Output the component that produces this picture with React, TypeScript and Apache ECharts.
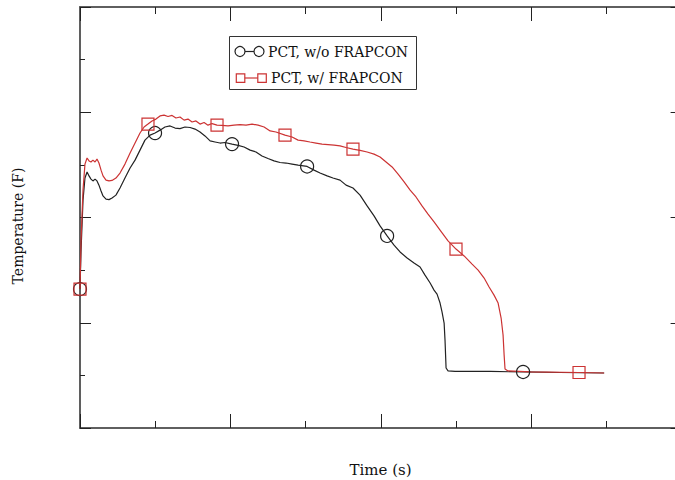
import React, { useEffect, useRef } from "react";
import * as echarts from "echarts";

// Time (s) and peak cladding temperature (F)
const timeWithout = [0, 0.7, 2.0, 3.3, 4.7, 6.0, 7.3, 8.6, 10.0, 11.3, 12.6, 14.0, 15.3, 17.3, 19.3, 21.3, 23.9, 26.6, 29.9, 33.3, 36.6, 39.9, 43.2, 46.6, 49.9, 53.2, 56.5, 59.9, 63.2, 66.5, 69.8, 73.2, 76.5, 79.8, 83.1, 86.5, 89.8, 93.1, 96.4, 101.1, 105.1, 109.1, 113.1, 117.0, 121.0, 125.0, 129.0, 133.0, 137.0, 141.0, 145.0, 151.0, 155.6, 159.6, 164.3, 168.2, 172.9, 176.9, 181.5, 186.2, 190.9, 195.5, 199.5, 204.2, 208.8, 212.8, 217.5, 222.1, 226.1, 229.4, 232.8, 235.4, 237.4, 239.4, 240.7, 242.1, 242.7, 243.4, 244.7, 249.4, 259.4, 272.7, 294.6, 319.2, 348.5];
const tempWithout = [528, 676, 866, 950, 973, 958, 946, 939, 946, 939, 923, 901, 882, 870, 868, 874, 885, 912, 950, 988, 1018, 1056, 1094, 1113, 1121, 1132, 1144, 1148, 1140, 1138, 1144, 1142, 1136, 1125, 1110, 1091, 1087, 1083, 1085, 1079, 1074, 1068, 1056, 1049, 1034, 1024, 1015, 1009, 1007, 1003, 999, 994, 980, 969, 958, 950, 942, 923, 912, 885, 844, 806, 768, 730, 695, 669, 646, 627, 612, 581, 551, 524, 509, 475, 441, 399, 334, 228, 217, 215, 215, 215, 213, 211, 209];
const markersWithout = [0, 24, 39, 51, 63, 82];

const timeWith = [0, 0.7, 2.0, 3.3, 4.7, 6.0, 7.3, 8.6, 10.0, 11.3, 12.6, 14.0, 15.3, 17.3, 19.3, 21.3, 23.9, 26.6, 29.9, 33.3, 36.6, 39.9, 42.6, 45.2, 47.9, 50.5, 53.2, 55.9, 58.5, 61.2, 63.8, 66.5, 69.2, 71.8, 74.5, 77.1, 79.8, 82.5, 85.1, 87.8, 91.1, 94.4, 98.4, 102.4, 106.4, 110.4, 114.4, 118.4, 122.4, 126.4, 130.3, 136.3, 141.0, 145.0, 149.0, 152.9, 156.9, 160.9, 164.9, 168.9, 172.9, 176.9, 181.5, 186.2, 190.9, 195.5, 199.5, 203.5, 207.5, 211.5, 215.5, 219.5, 223.4, 227.4, 231.4, 235.4, 239.4, 244.7, 250.0, 255.4, 260.7, 264.7, 268.7, 272.0, 275.3, 278.0, 280.0, 281.3, 282.0, 282.6, 284.6, 299.3, 331.8, 348.5];
const tempWith = [528, 714, 904, 1003, 1026, 1015, 1011, 1018, 1011, 1022, 1007, 980, 958, 942, 939, 941, 950, 969, 1003, 1045, 1083, 1121, 1144, 1155, 1167, 1174, 1186, 1189, 1184, 1188, 1178, 1182, 1170, 1174, 1163, 1167, 1155, 1161, 1151, 1157, 1151, 1150, 1148, 1151, 1153, 1151, 1155, 1151, 1144, 1129, 1125, 1113, 1106, 1094, 1091, 1087, 1083, 1079, 1077, 1075, 1072, 1066, 1060, 1055, 1049, 1041, 1030, 1011, 992, 965, 935, 904, 878, 844, 813, 783, 752, 711, 680, 654, 623, 600, 570, 536, 505, 475, 418, 353, 277, 224, 217, 213, 211, 209];
const markersWith = [0, 23, 40, 51, 62, 78, 92];

const seriesNames = ["PCT, w/o FRAPCON", "PCT, w/ FRAPCON"];
const xTitle = "Time (s)";
const yTitle = "Temperature (F)";

const BLACK = "#222222";
const RED = "#cc3333";
const FONT = "DejaVu Serif";

function buildData(t: number[], v: number[], marks: number[], symbol: string, size: number) {
  return t.map((x, i) =>
    marks.includes(i)
      ? { value: [x, v[i]], symbol, symbolSize: size }
      : { value: [x, v[i]] }
  );
}

export default function App() {
  const ref = useRef<HTMLDivElement>(null);
  useEffect(() => {
    if (!ref.current) return;
    const chart = echarts.init(ref.current, null, { renderer: "svg" });
    const axisLine = { show: true, onZero: false, lineStyle: { color: "#555", width: 1.5 } };
    const mkX = (pos: string, interval: number, len: number) => ({
      type: "value",
      position: pos,
      min: 0,
      max: 400,
      interval,
      axisLine,
      axisTick: { show: true, inside: true, length: len, lineStyle: { color: BLACK, width: 1 } },
      axisLabel: { show: false },
      splitLine: { show: false },
    });
    const mkY = (pos: string, interval: number, len: number) => ({
      type: "value",
      position: pos,
      min: 0,
      max: 1600,
      interval,
      axisLine,
      axisTick: { show: true, inside: true, length: len, lineStyle: { color: BLACK, width: 1 } },
      axisLabel: { show: false },
      splitLine: { show: false },
    });
    chart.setOption({
      animation: false,
      backgroundColor: "#fff",
      grid: { left: 80, top: 7, width: 601.6, height: 421, outerBoundsMode: "none", containLabel: false },
      xAxis: [mkX("bottom", 100, 14), mkX("bottom", 50, 7), mkX("top", 100, 14), mkX("top", 50, 7)],
      yAxis: [mkY("left", 400, 11), mkY("left", 200, 5), mkY("right", 400, 11), mkY("right", 200, 5)],
      series: [
        {
          name: seriesNames[0],
          type: "line",
          xAxisIndex: 0,
          yAxisIndex: 0,
          data: buildData(timeWithout, tempWithout, markersWithout, "circle", 13),
          symbol: "none",
          showSymbol: true,
          showAllSymbol: true,
          lineStyle: { color: BLACK, width: 1.2 },
          itemStyle: { color: "rgba(255,255,255,0)", borderColor: BLACK, borderWidth: 1.2 },
        },
        {
          name: seriesNames[1],
          type: "line",
          xAxisIndex: 0,
          yAxisIndex: 0,
          data: buildData(timeWith, tempWith, markersWith, "rect", 12),
          symbol: "none",
          showSymbol: true,
          showAllSymbol: true,
          lineStyle: { color: RED, width: 1.2 },
          itemStyle: { color: "rgba(255,255,255,0)", borderColor: RED, borderWidth: 1.2 },
        },
      ],
      graphic: [
        {
          type: "rect",
          shape: { x: 229.5, y: 36.5, width: 187, height: 53 },
          style: { fill: "#fff", stroke: "#333", lineWidth: 1 },
          z: 10,
        },
        { type: "line", shape: { x1: 240, y1: 51.5, x2: 259, y2: 51.5 }, style: { stroke: BLACK, lineWidth: 1.2 }, z: 11 },
        { type: "circle", shape: { cx: 240, cy: 51.5, r: 5 }, style: { fill: "#fff", stroke: BLACK, lineWidth: 1.2 }, z: 12 },
        { type: "circle", shape: { cx: 259, cy: 51.5, r: 5 }, style: { fill: "#fff", stroke: BLACK, lineWidth: 1.2 }, z: 12 },
        {
          type: "text",
          x: 268,
          y: 51.5,
          style: { text: seriesNames[0], font: `14px "${FONT}"`, fill: "#111", verticalAlign: "middle", align: "left" },
          z: 12,
        },
        { type: "line", shape: { x1: 240.5, y1: 78, x2: 262, y2: 78 }, style: { stroke: RED, lineWidth: 1.2 }, z: 11 },
        { type: "rect", shape: { x: 236.3, y: 73.8, width: 8.5, height: 8.5 }, style: { fill: "#fff", stroke: RED, lineWidth: 1.2 }, z: 12 },
        { type: "rect", shape: { x: 257.8, y: 73.8, width: 8.5, height: 8.5 }, style: { fill: "#fff", stroke: RED, lineWidth: 1.2 }, z: 12 },
        {
          type: "text",
          x: 271,
          y: 78,
          style: { text: seriesNames[1], font: `14px "${FONT}"`, fill: "#111", verticalAlign: "middle", align: "left" },
          z: 12,
        },
        {
          type: "text",
          x: 380.5,
          y: 470,
          style: { text: xTitle, font: `15px "${FONT}"`, fill: "#111", verticalAlign: "middle", align: "center" },
        },
        {
          type: "text",
          x: 18,
          y: 226,
          rotation: Math.PI / 2,
          style: { text: yTitle, font: `14px "${FONT}"`, fill: "#111", verticalAlign: "middle", align: "center" },
        },
      ],
    });
    return () => chart.dispose();
  }, []);
  return (
    <div
      ref={ref}
      style={{ position: "absolute", left: 0, top: 0, width: 675, height: 480, background: "#fff" }}
    />
  );
}
